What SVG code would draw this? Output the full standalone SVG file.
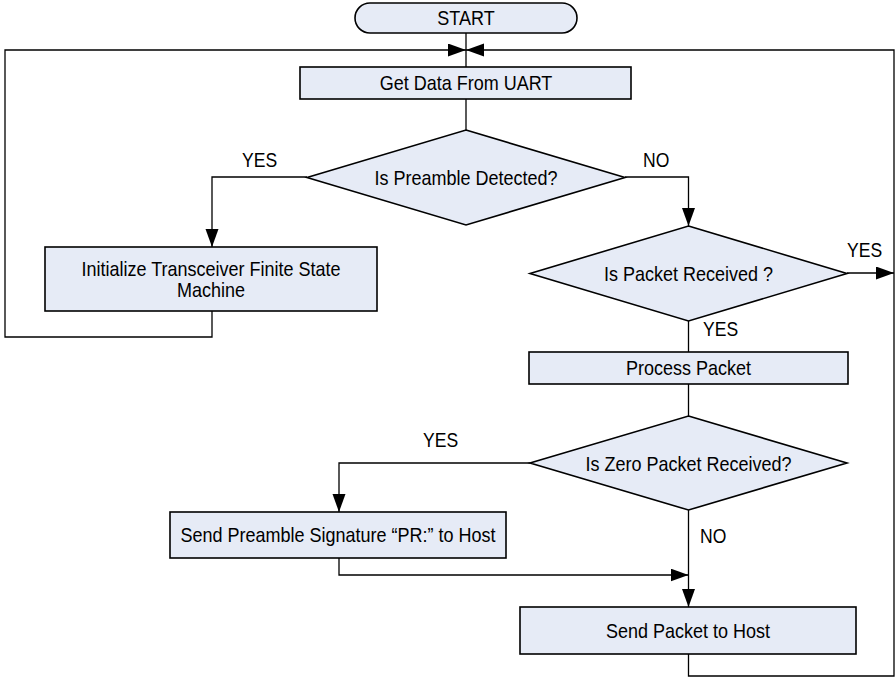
<svg xmlns="http://www.w3.org/2000/svg" width="896" height="677" viewBox="0 0 896 677">
<style>
.box{fill:#E6EBF6;stroke:#000;stroke-width:1.6}
.t{font-family:"Liberation Sans",Arial,sans-serif;font-size:20px;fill:#000;text-anchor:middle}
.l{font-family:"Liberation Sans",Arial,sans-serif;font-size:19.5px;fill:#000}
.c{fill:none;stroke:#000;stroke-width:1.3}
</style>
<defs>
<marker id="ah" markerUnits="userSpaceOnUse" markerWidth="19" markerHeight="14" refX="18" refY="6.5" orient="auto">
<path d="M0,0 L18,6.5 L0,13 z" fill="#000"/>
</marker>
</defs>
<rect width="896" height="677" fill="#fff"/>
<g id="connectors">
<path class="c" d="M466,33 V67"/>
<path class="c" d="M466,99 V130"/>
<path class="c" d="M307,177 H212 V247" marker-end="url(#ah)"/>
<path class="c" d="M212,311 V337 H5 V50 H466" marker-end="url(#ah)"/>
<path class="c" d="M625,177 H688.5 V226" marker-end="url(#ah)"/>
<path class="c" d="M847,273 H894" marker-end="url(#ah)"/>
<path class="c" d="M688.5,321 V352"/>
<path class="c" d="M688.5,384 V416"/>
<path class="c" d="M530,463 H339 V512" marker-end="url(#ah)"/>
<path class="c" d="M339,558 V575 H688.5" marker-end="url(#ah)"/>
<path class="c" d="M688.5,510 V607" marker-end="url(#ah)"/>
<path class="c" d="M688.5,654 V676 H894 V50 H466" marker-end="url(#ah)"/>
</g>
<g id="start">
<rect class="box" x="355" y="3" width="222" height="30" rx="15" ry="15"/>
<text class="t" transform="translate(466,24.5) scale(0.9,1)">START</text>
</g>
<g id="getdata">
<rect class="box" x="300" y="67" width="331" height="32"/>
<text class="t" transform="translate(466,90) scale(0.9,1)">Get Data From UART</text>
</g>
<g id="d1">
<polygon class="box" points="466,130 625,177.5 466,225 307,177.5"/>
<text class="t" transform="translate(466,184.5) scale(0.9,1)">Is Preamble Detected?</text>
</g>
<g id="init">
<rect class="box" x="45" y="247" width="332" height="64"/>
<text class="t" transform="translate(211,276) scale(0.9,1)">Initialize Transceiver Finite State</text>
<text class="t" transform="translate(211,297) scale(0.9,1)">Machine</text>
</g>
<g id="d2">
<polygon class="box" points="688.5,226 847,273.5 688.5,321 530,273.5"/>
<text class="t" transform="translate(688.5,280.5) scale(0.9,1)">Is Packet Received ?</text>
</g>
<g id="process">
<rect class="box" x="529" y="352" width="319" height="32"/>
<text class="t" transform="translate(688.5,375) scale(0.9,1)">Process Packet</text>
</g>
<g id="d3">
<polygon class="box" points="688.5,416 847,463 688.5,510 530,463"/>
<text class="t" transform="translate(688.5,470.5) scale(0.9,1)">Is Zero Packet Received?</text>
</g>
<g id="sendpre">
<rect class="box" x="170" y="512" width="336" height="46"/>
<text class="t" transform="translate(338,542) scale(0.9,1)">Send Preamble Signature “PR:” to Host</text>
</g>
<g id="sendpkt">
<rect class="box" x="520" y="607" width="336" height="47"/>
<text class="t" transform="translate(688,637.5) scale(0.9,1)">Send Packet to Host</text>
</g>
<g id="labels">
<text class="l" transform="translate(242,167) scale(0.9,1)">YES</text>
<text class="l" transform="translate(643,167) scale(0.9,1)">NO</text>
<text class="l" transform="translate(847,257) scale(0.9,1)">YES</text>
<text class="l" transform="translate(703,336) scale(0.9,1)">YES</text>
<text class="l" transform="translate(423,447) scale(0.9,1)">YES</text>
<text class="l" transform="translate(700,543) scale(0.9,1)">NO</text>
</g>
</svg>
